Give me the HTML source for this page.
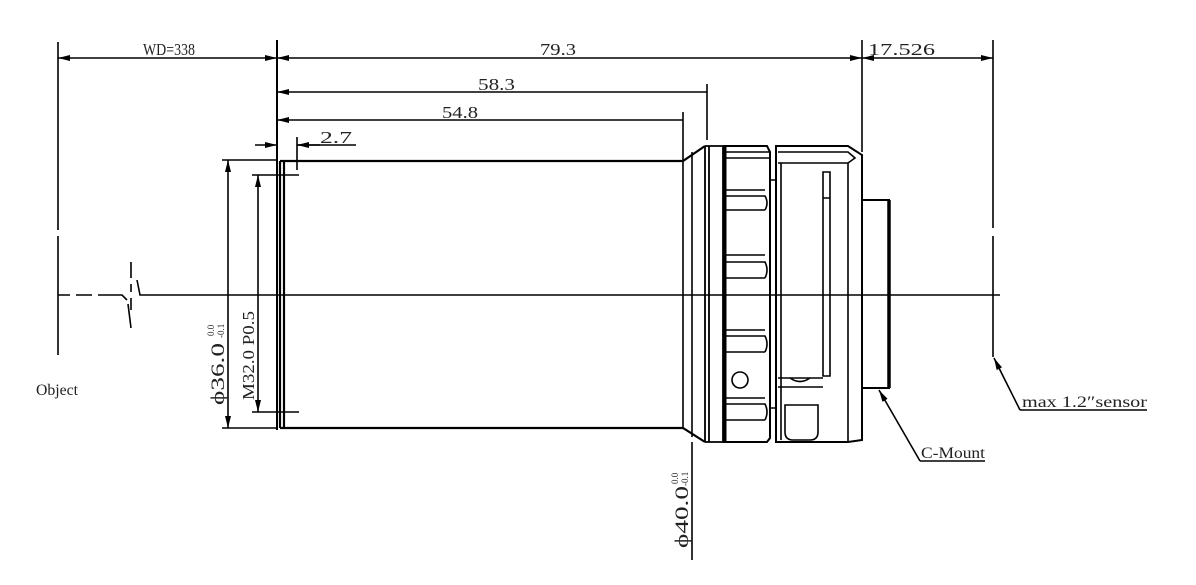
<!DOCTYPE html>
<html><head><meta charset="utf-8"><style>
html,body{margin:0;padding:0;background:#fff;}
svg{display:block;}
text{font-family:"Liberation Serif","Noto Serif CJK SC",serif;fill:#222;}
</style></head><body>
<svg width="1196" height="585" viewBox="0 0 1196 585" xmlns="http://www.w3.org/2000/svg">
<defs>
<marker id="a" viewBox="0 0 12 6" refX="12" refY="3" markerWidth="12" markerHeight="6" orient="auto-start-reverse" markerUnits="userSpaceOnUse"><path d="M0,0 L12,3 L0,6 z" fill="#000"/></marker>
</defs>
<g stroke="#000" fill="none" stroke-width="1.6">
<path d="M58,42 V230 M58,236 V355"/>
<path d="M277,40 V430" stroke-width="2"/>
<path d="M862,40 V152"/>
<path d="M993,40 V228 M993,236 V357"/>
<line x1="58" y1="58" x2="277" y2="58" marker-start="url(#a)" marker-end="url(#a)"/>
<line x1="277" y1="58" x2="862" y2="58" marker-start="url(#a)" marker-end="url(#a)"/>
<line x1="862" y1="58" x2="993" y2="58" marker-start="url(#a)" marker-end="url(#a)"/>
<line x1="277" y1="92" x2="707" y2="92" marker-start="url(#a)"/>
<path d="M707,84 V140"/>
<line x1="277" y1="120" x2="683" y2="120" marker-start="url(#a)"/>
<path d="M683,112 V160"/>
<line x1="255" y1="145" x2="277" y2="145" marker-end="url(#a)"/>
<line x1="320" y1="145" x2="297" y2="145" marker-end="url(#a)"/>
<path d="M297,145 H356 M297,137 V170"/>
<path d="M58,295 H70 M76,295 H92 M98,295 H122 L127,300 M137,280 L140,295 H1000" />
<path d="M131,262 V278 M131,284 V292 M131,298 V310 M128,304 L131,328" />
<path d="M222,160 H277 M222,428 H277"/>
<line x1="228" y1="295" x2="228" y2="160" marker-end="url(#a)"/>
<line x1="228" y1="295" x2="228" y2="428" marker-end="url(#a)"/>
<path d="M252,175 H299 M252,412 H299"/>
<line x1="258" y1="295" x2="258" y2="175" marker-end="url(#a)"/>
<line x1="258" y1="295" x2="258" y2="412" marker-end="url(#a)"/>
<path d="M280,161 H683 L705,146 M280,428 H683 L705,442 M280,161 V428 M284,161 V428" stroke-width="2.2"/>
<path d="M683,161 V428 M692,152 V437"/>
<line x1="692" y1="442" x2="692" y2="560"/>
<path d="M705,146 H723 V442 H705 M705,146 V442 M709,146 V442" stroke-width="1.8"/>
<path d="M723,146 H767 L770,152 V438 L767,442 H723" stroke-width="2"/>
<path d="M725,146 V442" stroke-width="3"/>
<path d="M725,152 H770 M725,158 H770"/>
<path d="M725,190 H765 M725,196 H765 Q769,203 765,210 M725,210 H765 M725,255 H765 M725,262 H765 Q769,270 765,278 M725,278 H765 M725,330 H765 M725,336 H765 Q769,344 765,352 M725,352 H765 M725,398 H765 M725,404 H765 Q769,412 765,420 M725,420 H765"/>
<path d="M770,180 H776 M770,408 H776"/>
<circle cx="740" cy="380" r="8"/>
<path d="M776,146 H848 L862,155 V440 L848,442 H776 Z" stroke-width="2"/>
<path d="M778,152 H848 L855,158 L848,163 H778 M781,163 V440 M848,163 V442"/>
<path d="M823,172 H830 V376 H823 Z M823,198 H830"/>
<path d="M778,378 H823 M778,387 H823 M790,378 Q800,385 810,378"/>
<path d="M785,405 H818 V432 Q818,440 810,440 H793 Q785,440 785,432 Z"/>
<path d="M862,200 H889 V388 H862" stroke-width="2"/>
<path d="M889,200 V388" stroke-width="3.5"/>
<line x1="920" y1="461" x2="879" y2="390" marker-end="url(#a)"/>
<path d="M920,461 H985"/>
<line x1="1020" y1="410" x2="994" y2="358" marker-end="url(#a)"/>
<path d="M1020,410 H1147"/>
</g>
<g font-size="17">
<text x="143" y="55" textLength="52" lengthAdjust="spacingAndGlyphs">WD=338</text>
<text x="540" y="55" textLength="36" lengthAdjust="spacingAndGlyphs">79.3</text>
<text x="868" y="55" textLength="67" lengthAdjust="spacingAndGlyphs">17.526</text>
<text x="478" y="90" textLength="37" lengthAdjust="spacingAndGlyphs">58.3</text>
<text x="442" y="118" textLength="36" lengthAdjust="spacingAndGlyphs">54.8</text>
<text x="320" y="143" textLength="32" lengthAdjust="spacingAndGlyphs">2.7</text>
<text x="921" y="458" font-size="16" textLength="64" lengthAdjust="spacingAndGlyphs">C-Mount</text>
<text x="1022" y="407" font-size="16" textLength="125" lengthAdjust="spacingAndGlyphs">max 1.2″sensor</text>
<text x="36" y="395" font-size="16" fill="#555" textLength="42" lengthAdjust="spacingAndGlyphs">Object</text>
<text transform="translate(224,405) rotate(-90)" font-size="19" textLength="62" lengthAdjust="spacingAndGlyphs">ϕ36.0</text>
<text transform="translate(214,336) rotate(-90)" font-size="9">0.0</text>
<text transform="translate(224,338) rotate(-90)" font-size="9">-0.1</text>
<text transform="translate(254,400) rotate(-90)" font-size="17" textLength="89" lengthAdjust="spacingAndGlyphs">M32.0 P0.5</text>
<text transform="translate(688,548) rotate(-90)" font-size="19" textLength="62" lengthAdjust="spacingAndGlyphs">ϕ40.0</text>
<text transform="translate(678,484) rotate(-90)" font-size="9">0.0</text>
<text transform="translate(688,486) rotate(-90)" font-size="9">-0.1</text>
</g>
</svg>
</body></html>
